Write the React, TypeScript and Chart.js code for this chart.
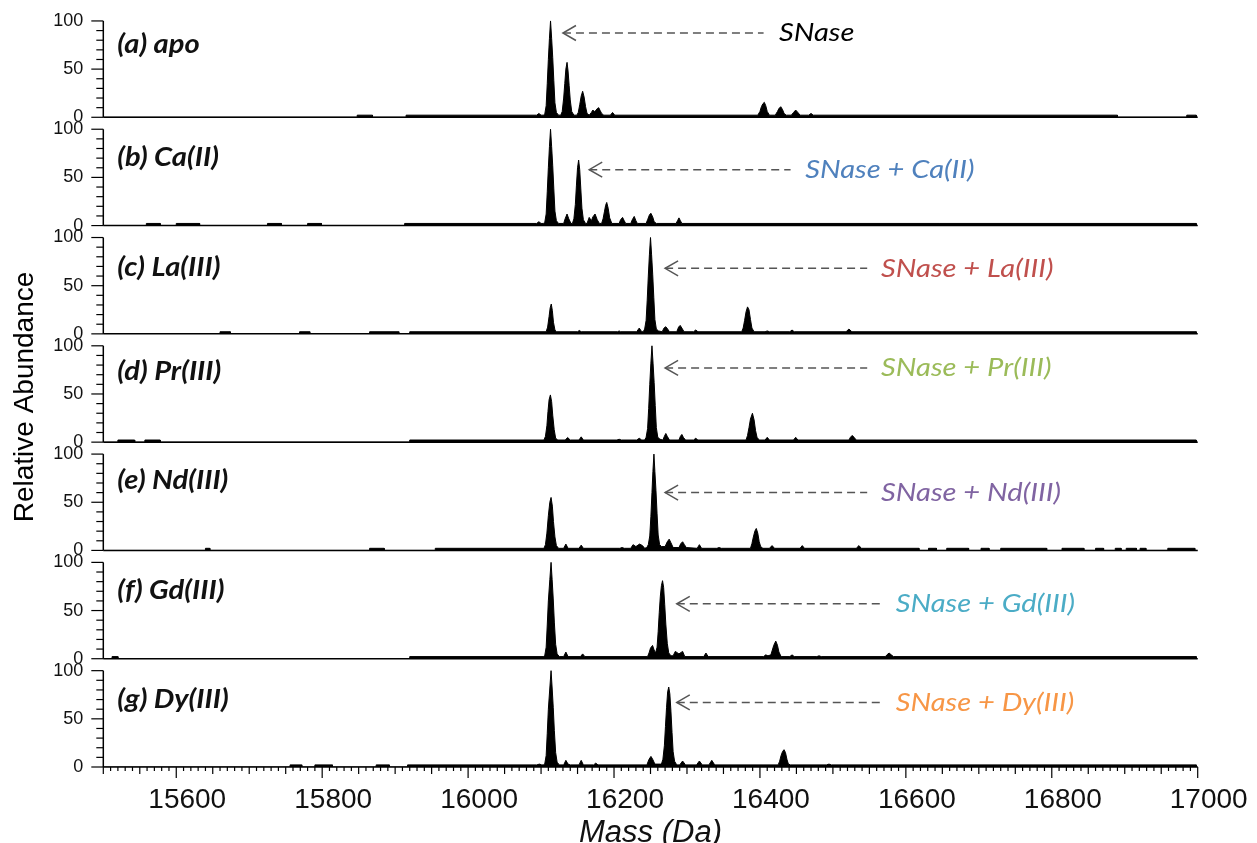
import React, { useEffect, useRef } from 'react';
import { Chart, registerables } from 'chart.js';

Chart.register(...registerables);

// ---------- data (mass in Da, relative abundance in %) ----------
const massTicks = [15600, 15800, 16000, 16200, 16400, 16600, 16800, 17000];
const abundanceTicks = [0, 50, 100];

const apo: [number, number][] = [
  [15500, 0], [15848, 0], [15848, 2.2], [15869, 2.2], [15869, 0], [15915, 0], [15915, 2.2],
  [16094, 2.2], [16097, 4], [16100, 2.2],
  [16103, 2.2], [16105, 3], [16107, 12], [16108.5, 35], [16110, 60], [16111.5, 82], [16113, 100], [16114.5, 82], [16116, 62], [16117.5, 38], [16119, 15], [16121, 5], [16124, 2.2],
  [16127, 2.2], [16129, 6], [16131, 20], [16132.5, 35], [16134, 50], [16135.6, 57], [16137, 48], [16138.5, 33], [16140, 18], [16142, 6], [16145, 2.2],
  [16149, 2.2], [16151, 5], [16153, 13], [16155, 22], [16157, 27], [16159, 21], [16161, 11], [16163, 4], [16166, 2.2],
  [16167, 2.2], [16169, 5], [16171, 7.5], [16173, 6], [16175, 7], [16177, 9], [16179, 10], [16181, 7], [16183, 4], [16186, 2.2],
  [16195, 2.2], [16198, 5], [16201, 2.2],
  [16397, 2.2], [16400, 6], [16402, 11], [16404, 14], [16406, 15.5], [16408, 12], [16410, 6], [16413, 2.2],
  [16421, 2.2], [16424, 6], [16426, 9], [16428.5, 11], [16431, 8], [16433, 4], [16436, 2.2],
  [16443, 2.2], [16446, 5], [16449, 7.5], [16452, 5], [16455, 2.2],
  [16467, 2.2], [16470, 4], [16473, 2.2],
  [16890, 2.2], [16890, 0], [16985, 0], [16985, 2.2], [16998, 2.2], [16998, 0], [17000, 0],
];

const caII: [number, number][] = [
  [15500, 0], [15559, 0], [15559, 2.2], [15578, 2.2], [15578, 0], [15600, 0], [15600, 2.2], [15632, 2.2], [15632, 0],
  [15725, 0], [15725, 2.2], [15744, 2.2], [15744, 0], [15780, 0], [15780, 2.2], [15799, 2.2], [15799, 0], [15913, 0], [15913, 2.2],
  [16094, 2.2], [16097, 4], [16100, 2.2],
  [16103, 2.2], [16105, 3], [16107, 12], [16108.5, 35], [16110, 60], [16111.5, 82], [16113, 100], [16114.5, 82], [16116, 62], [16117.5, 38], [16119, 15], [16121, 5], [16124, 2.2],
  [16131, 2.2], [16133, 7], [16135.6, 12], [16138, 7], [16141, 2.2],
  [16143, 2.2], [16145, 7], [16147, 22], [16148.5, 42], [16150, 60], [16151.5, 68], [16153, 58], [16154.5, 38], [16156, 18], [16158, 6], [16161, 2.2],
  [16163, 2.2], [16166, 8.5], [16169, 5], [16171, 9], [16174, 12], [16177, 6], [16180, 2.2],
  [16183, 2.2], [16185, 7], [16187, 15], [16188.5, 21], [16190, 24], [16192, 18], [16194, 8], [16197, 2.2],
  [16207, 2.2], [16209, 6], [16211.7, 8.5], [16214, 5], [16216, 2.2],
  [16223, 2.2], [16225, 6], [16227.7, 9.5], [16230, 5], [16232, 2.2],
  [16244, 2.2], [16246, 6], [16248.5, 11], [16250.5, 12.8], [16253, 9], [16255, 4], [16258, 2.2],
  [16285, 2.2], [16287, 5], [16289, 8], [16291, 5], [16293, 2.2],
  [16998, 2.2], [16998, 0], [17000, 0],
];

const laIII: [number, number][] = [
  [15500, 0], [15660, 0], [15660, 2.2], [15674, 2.2], [15674, 0], [15769, 0], [15769, 2.2], [15783, 2.2], [15783, 0],
  [15865, 0], [15865, 2.2], [15905, 2.2], [15905, 0], [15920, 0], [15920, 2.2],
  [16107, 2.2], [16109, 7], [16111, 18], [16112.5, 27], [16114, 31], [16115.5, 24], [16117, 12], [16119, 4], [16121, 2.2],
  [16150, 2.2], [16152.4, 3.5], [16155, 2.2],
  [16205, 2.2], [16207, 3], [16209, 2.2],
  [16231, 2.2], [16234.6, 6], [16238, 2.2],
  [16240, 2.2], [16242, 5], [16244, 14], [16245.5, 35], [16247, 60], [16248.5, 82], [16250, 100], [16251.5, 82], [16253, 62], [16254.5, 38], [16256, 15], [16258, 5], [16261, 3],
  [16266, 2.2], [16268.5, 6], [16271, 7.4], [16273.5, 5], [16276, 2.2],
  [16286, 2.2], [16288.5, 7], [16290.7, 8.8], [16293, 6], [16296, 2.2],
  [16309, 2.2], [16312, 4], [16315, 2.2],
  [16375, 2.2], [16377, 6], [16379, 14], [16381, 23], [16383, 28], [16385, 25], [16387, 15], [16389, 6], [16392, 2.2],
  [16407, 2.2], [16410, 3], [16413, 2.2],
  [16441, 2.2], [16444, 4], [16447, 2.2],
  [16518, 2.2], [16522, 5], [16526, 2.2],
  [16998, 2.2], [16998, 0], [17000, 0],
];

const prIII: [number, number][] = [
  [15500, 0], [15520, 0], [15520, 2.2], [15543, 2.2], [15543, 0], [15557, 0], [15557, 2.2], [15578, 2.2], [15578, 0],
  [15920, 0], [15920, 2.2],
  [16104, 2.2], [16106, 6], [16108, 17], [16109.5, 32], [16111, 44], [16112.8, 49], [16114.5, 42], [16116, 28], [16118, 13], [16120, 4], [16123, 2.2],
  [16133, 2.2], [16136.5, 4.8], [16140, 2.2],
  [16152, 2.2], [16155, 5.5], [16158, 2.2],
  [16204, 2.2], [16207, 3], [16210, 2.2],
  [16231, 2.2], [16234.6, 4], [16238, 2.2],
  [16242, 2.2], [16244, 5], [16246, 14], [16247.5, 35], [16249, 60], [16250.5, 82], [16252, 100], [16253.5, 82], [16255, 62], [16256.5, 38], [16258, 15], [16260, 5], [16263, 3],
  [16267, 2.2], [16269, 6], [16271, 9], [16273, 6], [16276, 2.2],
  [16289, 2.2], [16291, 6], [16293, 8], [16295, 5], [16298, 2.2],
  [16309, 2.2], [16312, 4], [16315, 2.2],
  [16381, 2.2], [16383, 7], [16385, 15], [16387, 24], [16389.7, 30], [16392, 23], [16394, 12], [16396, 5], [16399, 2.2],
  [16407, 2.2], [16410, 5], [16413, 2.2],
  [16446, 2.2], [16449, 5], [16452, 2.2],
  [16522, 2.2], [16524, 5], [16526.5, 7], [16529, 5], [16532, 2.2],
  [16998, 2.2], [16998, 0], [17000, 0],
];

const ndIII: [number, number][] = [
  [15500, 0], [15640, 0], [15640, 2.2], [15646, 2.2], [15646, 0], [15865, 0], [15865, 2.2], [15885, 2.2], [15885, 0],
  [15955, 0], [15955, 2.2],
  [16104, 2.2], [16106, 6], [16108, 18], [16110, 36], [16112, 50], [16113.7, 55], [16115.5, 46], [16117, 30], [16119, 14], [16121, 5], [16124, 2.2],
  [16131, 2.2], [16134, 6.6], [16137, 2.2],
  [16152, 2.2], [16155, 5.5], [16158, 2.2],
  [16208, 2.2], [16211, 3], [16214, 2.2],
  [16223, 2.2], [16226, 6], [16230, 4], [16235, 6.6], [16239, 5], [16242, 2.2],
  [16245, 3], [16247, 6], [16249, 15], [16250.5, 35], [16252, 60], [16253.3, 82], [16254.7, 100], [16256, 82], [16257.5, 62], [16259, 38], [16260.5, 16], [16262.5, 6], [16265, 4],
  [16270, 4], [16273, 9], [16275.6, 11.7], [16278, 8], [16281, 3],
  [16289, 3], [16291.5, 7], [16294, 9], [16296.5, 6], [16299, 3],
  [16314, 2.2], [16317, 6], [16320, 2.2],
  [16341, 2.2], [16344, 3], [16347, 2.2],
  [16387, 2.2], [16389, 7], [16391, 14], [16393, 20], [16395, 22.8], [16397, 18], [16399, 9], [16401, 4], [16404, 2.2],
  [16413, 2.2], [16416.6, 5], [16420, 2.2],
  [16455, 2.2], [16458, 5], [16461, 2.2],
  [16532, 2.2], [16535.7, 5], [16539, 2.2],
  [16618, 2.2], [16618, 0], [16631, 0], [16631, 2.2], [16642, 2.2], [16642, 0], [16656, 0], [16656, 2.2], [16686, 2.2], [16686, 0],
  [16703, 0], [16703, 2.2], [16714, 2.2], [16714, 0], [16730, 0], [16730, 2.2], [16793, 2.2], [16793, 0],
  [16814, 0], [16814, 2.2], [16844, 2.2], [16844, 0], [16860, 0], [16860, 2.2], [16871, 2.2], [16871, 0],
  [16887, 0], [16887, 2.2], [16895, 2.2], [16895, 0], [16902, 0], [16902, 2.2], [16916, 2.2], [16916, 0],
  [16921, 0], [16921, 2.2], [16929, 2.2], [16929, 0], [16959, 0], [16959, 2.2], [16996, 2.2], [16996, 0], [17000, 0],
];

const gdIII: [number, number][] = [
  [15500, 0], [15512, 0], [15512, 2.2], [15520, 2.2], [15520, 0], [15920, 0], [15920, 2.2],
  [16103, 2.2], [16105, 3], [16107, 12], [16108.5, 35], [16110, 60], [16112, 82], [16113.7, 100], [16115.2, 82], [16116.7, 62], [16118.2, 38], [16120, 15], [16122, 5], [16125, 2.2],
  [16131, 2.2], [16134, 6.9], [16137, 2.2],
  [16154, 2.2], [16157, 5], [16160, 2.2],
  [16246, 2.2], [16248, 6], [16250, 11], [16252.8, 13.8], [16255, 9],
  [16257, 6], [16259, 12], [16260.5, 28], [16262, 48], [16263.5, 65], [16265, 76], [16266.5, 81], [16268, 74], [16269.5, 56], [16271, 36], [16273, 16], [16275, 6], [16278, 3],
  [16281, 3], [16284, 7.6], [16289, 5], [16294, 7.6], [16297, 2.2],
  [16323, 2.2], [16326, 5.9], [16329, 2.2],
  [16405, 2.2], [16408, 4], [16411, 3], [16415, 4], [16417, 9], [16419, 14], [16421.7, 18.3], [16424, 14], [16426, 7], [16429, 2.2],
  [16441, 2.2], [16444, 4], [16447, 2.2],
  [16478, 2.2], [16481, 3], [16484, 2.2],
  [16572, 2.2], [16574, 4], [16577, 5.9], [16580, 4], [16583, 2.2],
  [16998, 2.2], [16998, 0], [17000, 0],
];

const dyIII: [number, number][] = [
  [15500, 0], [15756, 0], [15756, 2.2], [15772, 2.2], [15772, 0], [15790, 0], [15790, 2.2], [15814, 2.2], [15814, 0],
  [15874, 0], [15874, 2.2], [15892, 2.2], [15892, 0], [15917, 0], [15917, 2.2],
  [16094, 2.2], [16097.7, 3], [16101, 2.2],
  [16103, 2.2], [16105, 3], [16107, 12], [16108.5, 35], [16110, 60], [16112, 82], [16113.7, 100], [16115.2, 82], [16116.7, 62], [16118.2, 38], [16120, 15], [16122, 5], [16125, 2.2],
  [16131, 2.2], [16134, 6.9], [16137, 3], [16140, 2.2],
  [16152, 2.2], [16155, 6.9], [16158, 2.2],
  [16172, 2.2], [16175, 4], [16178, 2.2],
  [16245, 2.2], [16248, 8], [16250.6, 11], [16253, 8], [16256, 3],
  [16265, 3], [16267, 8], [16269, 22], [16270.5, 42], [16272, 62], [16273.5, 78], [16275, 83], [16276.5, 76], [16278, 58], [16279.5, 36], [16281, 16], [16283, 6], [16286, 2.2],
  [16290, 2.2], [16294, 6.2], [16298, 2.2],
  [16313, 2.2], [16317, 6.2], [16321, 2.2],
  [16330, 2.2], [16334, 6.9], [16338, 2.2],
  [16425, 2.2], [16427, 6], [16429, 12], [16431, 16], [16433, 18], [16435, 15], [16437, 8], [16439, 3], [16442, 2.2],
  [16491, 2.2], [16494.6, 3], [16498, 2.2],
  [16998, 2.2], [16998, 0], [17000, 0],
];

const spectra = [apo, caII, laIII, prIII, ndIII, gdIII, dyIII];

const panelLabels = ['(a) apo', '(b) Ca(II)', '(c) La(III)', '(d) Pr(III)', '(e) Nd(III)', '(f) Gd(III)', '(g) Dy(III)'];
const panelLabelLevel = [75, 71, 69, 72.7, 72, 71, 70];

const annotationText = ['SNase', 'SNase + Ca(II)', 'SNase + La(III)', 'SNase + Pr(III)', 'SNase + Nd(III)', 'SNase + Gd(III)', 'SNase + Dy(III)'];
const annotationColor = ['#000000', '#4F81BD', '#C0504D', '#9BBB59', '#8064A2', '#4BACC6', '#F79646'];
const arrowTipMass = [16130, 16166, 16270, 16270, 16270, 16286, 16286];
const arrowEndMass = [16405, 16442, 16547, 16547, 16547, 16566, 16566];
const textStartMass = [16426, 16462, 16566, 16566, 16566, 16586, 16586];
const arrowLevel = [87.5, 58, 68, 77, 60, 57, 67];

const Y_MAX = 112.4;
const MASS_MIN = 15500;
const MASS_MAX = 17000;

function stretchedText(ctx: CanvasRenderingContext2D, text: string, x: number, y: number, sx: number) {
  ctx.save();
  ctx.translate(x, y);
  ctx.scale(sx, 1);
  ctx.fillText(text, 0, 0);
  ctx.restore();
}

const decorPlugin = {
  id: 'decor',
  afterDraw(chart: any) {
    const ctx = chart.ctx as CanvasRenderingContext2D;
    const area = chart.chartArea;
    const xs = chart.scales.x;
    ctx.save();
    ctx.strokeStyle = '#000';
    ctx.fillStyle = '#000';
    ctx.lineCap = 'butt';

    // y axes: line from 0 to 100 with ticks, and the baseline
    for (let i = 0; i < 7; i++) {
      const ys = chart.scales['y' + i];
      const y0 = ys.getPixelForValue(0);
      const y100 = ys.getPixelForValue(100);
      ctx.lineWidth = 1.5;
      ctx.beginPath();
      ctx.moveTo(area.left, y0);
      ctx.lineTo(area.left, y100);
      ctx.stroke();
      ctx.beginPath();
      ctx.moveTo(area.left, y0);
      ctx.lineTo(area.right, y0);
      ctx.stroke();
      ctx.lineWidth = 1.2;
      for (let v = 0; v <= 100; v += 10) {
        const py = ys.getPixelForValue(v);
        const len = v % 50 === 0 ? 12 : 7;
        ctx.beginPath();
        ctx.moveTo(area.left, py);
        ctx.lineTo(area.left - len, py);
        ctx.stroke();
      }
    }

    // x axis ticks
    ctx.lineWidth = 1.2;
    for (let m = MASS_MIN; m <= MASS_MAX; m += 10) {
      const px = xs.getPixelForValue(m);
      const len = m % 200 === 0 ? 11 : m % 50 === 0 ? 7 : 4;
      ctx.beginPath();
      ctx.moveTo(px, area.bottom);
      ctx.lineTo(px, area.bottom + len);
      ctx.stroke();
    }

    // panel labels and annotations
    for (let i = 0; i < 7; i++) {
      const ys = chart.scales['y' + i];
      ctx.font = 'italic bold 26px Lato';
      ctx.fillStyle = '#111';
      ctx.textAlign = 'left';
      ctx.textBaseline = 'middle';
      stretchedText(ctx, panelLabels[i], area.left + 14, ys.getPixelForValue(panelLabelLevel[i]), 1.12);

      const ay = ys.getPixelForValue(arrowLevel[i]);
      const tip = xs.getPixelForValue(arrowTipMass[i]);
      const end = xs.getPixelForValue(arrowEndMass[i]);
      ctx.strokeStyle = '#555';
      ctx.lineWidth = 1.5;
      ctx.setLineDash([8, 5]);
      ctx.beginPath();
      ctx.moveTo(tip, ay);
      ctx.lineTo(end, ay);
      ctx.stroke();
      ctx.setLineDash([]);
      ctx.beginPath();
      ctx.moveTo(tip + 13, ay - 7.5);
      ctx.lineTo(tip, ay);
      ctx.lineTo(tip + 13, ay + 7.5);
      ctx.stroke();

      ctx.font = 'italic 26px Lato';
      ctx.fillStyle = annotationColor[i];
      stretchedText(ctx, annotationText[i], xs.getPixelForValue(textStartMass[i]), ay, 1.12);
    }

    // y title
    ctx.save();
    ctx.translate(25, (area.top + area.bottom) / 2 + 9);
    ctx.rotate(-Math.PI / 2);
    ctx.font = '28px "Liberation Sans"';
    ctx.fillStyle = '#000';
    ctx.textAlign = 'center';
    ctx.textBaseline = 'middle';
    ctx.fillText('Relative Abundance', 0, 0);
    ctx.restore();

    ctx.restore();
  },
};

export default function App() {
  const canvasRef = useRef<HTMLCanvasElement | null>(null);

  useEffect(() => {
    if (!canvasRef.current) return;
    const yScales: any = {};
    for (let i = 0; i < 7; i++) {
      yScales['y' + i] = {
        type: 'linear',
        position: 'left',
        stack: 'panels',
        stackWeight: 1,
        weight: 7 - i,
        min: 0,
        max: Y_MAX,
        grid: { display: false, drawTicks: false },
        border: { display: false },
        ticks: {
          color: '#111',
          padding: 20,
          font: { family: 'Liberation Sans', size: 18 },
          callback: (v: any) => String(v),
        },
        afterBuildTicks: (scale: any) => {
          scale.ticks = abundanceTicks.map((v) => ({ value: v }));
        },
        afterFit: (scale: any) => {
          scale.width = 103.3;
          scale.paddingTop = 0;
          scale.paddingBottom = 0;
        },
      };
    }

    const chart = new Chart(canvasRef.current, {
      type: 'line',
      data: {
        datasets: spectra.map((pts, i) => ({
          label: panelLabels[i],
          data: pts.map(([x, y]) => ({ x, y })),
          yAxisID: 'y' + i,
          borderColor: '#000',
          backgroundColor: '#000',
          borderWidth: 1,
          pointRadius: 0,
          tension: 0,
          fill: 'origin',
        })),
      },
      options: {
        animation: false,
        responsive: false,
        layout: { padding: { top: 9, right: 59.3, left: 0, bottom: 0 }, autoPadding: false },
        plugins: { legend: { display: false }, tooltip: { enabled: false } },
        scales: {
          x: {
            type: 'linear',
            position: 'bottom',
            min: MASS_MIN,
            max: MASS_MAX,
            grid: { display: false, drawTicks: false },
            border: { display: false },
            ticks: {
              color: '#111',
              padding: 16,
              labelOffset: 11,
              maxRotation: 0,
              autoSkip: false,
              font: { family: 'Liberation Sans', size: 28 },
              callback: (v: any) => String(v),
            },
            afterBuildTicks: (scale: any) => {
              scale.ticks = massTicks.map((v) => ({ value: v }));
            },
            afterFit: (scale: any) => {
              scale.height = 76;
              scale.paddingLeft = 0;
              scale.paddingRight = 0;
            },
            title: {
              display: true,
              text: 'Mass (Da)',
              color: '#111',
              padding: 0,
              font: { family: 'Liberation Sans', size: 31, style: 'italic', lineHeight: 0.62 },
            },
          },
          ...yScales,
        },
      } as any,
      plugins: [decorPlugin],
    });
    return () => chart.destroy();
  }, []);

  return (
    <div style={{ position: 'fixed', left: 0, top: 0, width: 1257, height: 843, background: '#fff' }}>
      <canvas ref={canvasRef} width={1257} height={843} style={{ display: 'block' }} />
    </div>
  );
}
